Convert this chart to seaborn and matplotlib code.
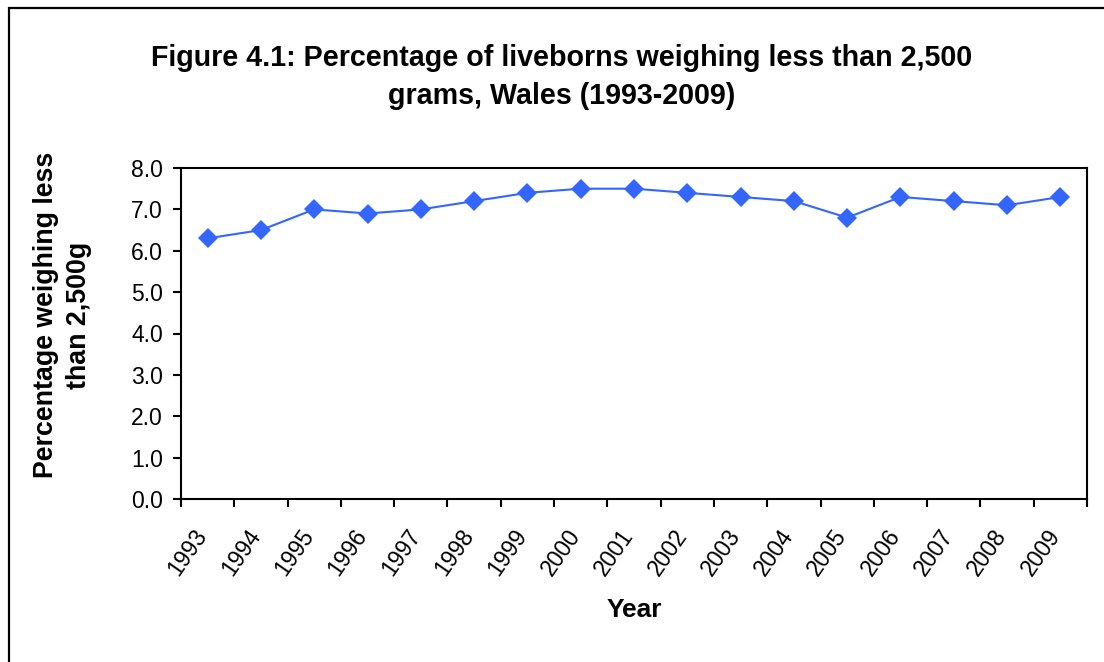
import seaborn as sns
import pandas as pd
import matplotlib.pyplot as plt
from matplotlib.patches import Rectangle
from matplotlib.ticker import FixedLocator
from matplotlib.transforms import ScaledTranslation

years = [1993, 1994, 1995, 1996, 1997, 1998, 1999, 2000, 2001,
         2002, 2003, 2004, 2005, 2006, 2007, 2008, 2009]
pct_low_weight = [6.3, 6.5, 7.0, 6.9, 7.0, 7.2, 7.4, 7.5, 7.5,
                  7.4, 7.3, 7.2, 6.8, 7.3, 7.2, 7.1, 7.3]
y_ticks = [0, 1, 2, 3, 4, 5, 6, 7, 8]

df = pd.DataFrame({'year': years, 'pct': pct_low_weight})

sns.set_style('white')
plt.rcParams['font.family'] = ['Liberation Sans', 'DejaVu Sans']
plt.rcParams['text.color'] = 'black'
plt.rcParams['axes.labelcolor'] = 'black'
plt.rcParams['xtick.color'] = 'black'
plt.rcParams['ytick.color'] = 'black'

fig = plt.figure(figsize=(11.04, 6.62), dpi=100)
ax = fig.add_axes([181 / 1104, 1 - 499 / 662, (1087 - 181) / 1104, (499 - 168) / 662])

sns.lineplot(data=df, x='year', y='pct', ax=ax, color='#3366FF', linewidth=1.5,
             marker='D', markersize=10, markeredgewidth=0, markerfacecolor='#3366FF')

ax.set_xlim(years[0] - 0.5, years[-1] + 0.5)
ax.set_ylim(0, 8)
ax.set_yticks(y_ticks)
ax.set_yticklabels([f'{v:.1f}' for v in y_ticks], fontsize=16.5)
ax.set_xticks(years)
ax.set_xticklabels([str(y) for y in years], rotation=55, ha='right', va='center',
                   rotation_mode='anchor', fontsize=16.5)
ax.xaxis.set_minor_locator(FixedLocator([y - 0.5 for y in years] + [years[-1] + 0.5]))
ax.tick_params(axis='x', which='major', length=0, pad=16)
ax.tick_params(axis='x', which='minor', bottom=True, length=6, width=1.5, color='black')
ax.tick_params(axis='y', left=True, length=6, width=1.5, color='black', pad=7)

# nudge the slanted year labels a little down-left, as in the original
shift = ScaledTranslation(-5 / 100, -10 / 100, fig.dpi_scale_trans)
for tick in ax.xaxis.get_major_ticks():
    tick.label1.set_transform(tick.label1.get_transform() + shift)

for s in ax.spines.values():
    s.set_visible(True)
    s.set_color('black')
    s.set_linewidth(1.5)

ax.set_xlabel('Year', fontsize=19, fontweight='bold', va='center')
ax.xaxis.set_label_coords(0.5, -0.335)
ax.set_ylabel('Percentage weighing less\nthan 2,500g', fontsize=19.3,
              fontweight='bold', va='center', ha='center', linespacing=1.36)
ax.yaxis.set_label_coords(-0.131, 0.556)

fig.text(0.509, 0.884, 'Figure 4.1: Percentage of liveborns weighing less than 2,500\ngrams, Wales (1993-2009)',
         ha='center', va='center', fontsize=20.6, fontweight='bold', linespacing=1.46)

fig.patches.append(Rectangle((9 / 1104, -0.1), 1.2, 1.1 - 8 / 662, transform=fig.transFigure,
                             fill=False, edgecolor='black', linewidth=1.6, clip_on=False))

fig.savefig('out.png', dpi=100)
